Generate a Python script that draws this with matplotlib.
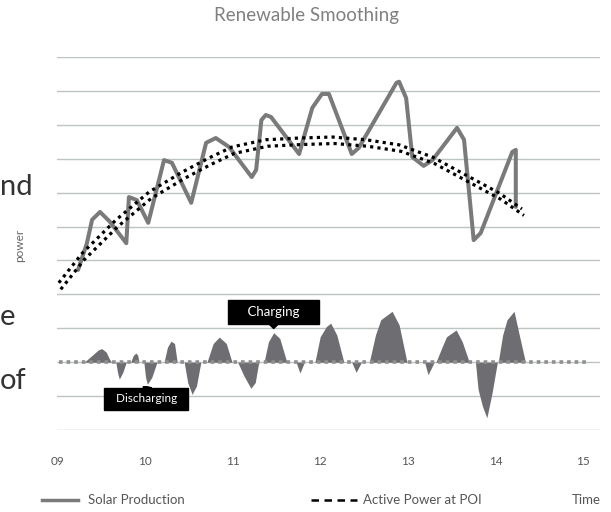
import matplotlib
matplotlib.use("Agg")
import matplotlib.pyplot as plt
from matplotlib.lines import Line2D
from matplotlib.transforms import offset_copy

# ---------------- data ----------------
hour_ticks = [9, 10, 11, 12, 13, 14, 15]
hour_labels = ["09", "10", "11", "12", "13", "14", "15"]

solar_x = [9.24, 9.34, 9.40, 9.49, 9.60, 9.79, 9.82, 9.91, 10.04, 10.22, 10.31,
           10.53, 10.70, 10.81, 10.96, 11.22, 11.27, 11.33, 11.38, 11.44, 11.76,
           11.91, 12.02, 12.10, 12.36, 12.44, 12.87, 12.90, 12.98, 13.05, 13.18,
           13.28, 13.56, 13.64, 13.75, 13.83, 14.19, 14.23, 14.23]
solar_y = [2.72, 3.50, 4.20, 4.43, 4.15, 3.51, 4.87, 4.78, 4.11, 5.96, 5.88,
           4.70, 6.47, 6.61, 6.35, 5.46, 5.67, 7.14, 7.29, 7.23, 6.14,
           7.50, 7.91, 7.91, 6.14, 6.32, 8.24, 8.27, 7.79, 6.05, 5.79,
           5.96, 6.91, 6.56, 3.60, 3.81, 6.20, 6.26, 4.58]

poi_x = [9.02, 9.29, 9.67, 10.05, 10.43, 10.73, 11.00, 11.38, 11.76, 12.14,
         12.52, 12.90, 13.28, 13.66, 14.04, 14.30]
poi_y = [2.34, 3.22, 4.19, 5.02, 5.61, 6.02, 6.35, 6.56, 6.61, 6.64,
         6.56, 6.41, 6.05, 5.52, 4.99, 4.52]

battery_x = [9.31, 9.40, 9.47, 9.51, 9.56, 9.60, 9.62,
             9.67, 9.69, 9.71, 9.75, 9.79,
             9.84, 9.87, 9.90, 9.92, 9.935,
             9.99, 10.01, 10.03, 10.08, 10.14,
             10.22, 10.26, 10.30, 10.34, 10.37,
             10.45, 10.49, 10.54, 10.59, 10.64,
             10.71, 10.78, 10.85, 10.93, 10.995,
             11.06, 11.13, 11.21, 11.26, 11.30,
             11.36, 11.41, 11.47, 11.54, 11.62,
             11.725, 11.77, 11.82,
             11.94, 12.00, 12.07, 12.12, 12.19, 12.27,
             12.36, 12.41, 12.47,
             12.56, 12.63, 12.69, 12.82, 12.90, 12.99,
             13.19, 13.23, 13.30,
             13.32, 13.39, 13.44, 13.55, 13.62, 13.70,
             13.77, 13.80, 13.85, 13.90, 13.96, 14.02,
             14.03, 14.08, 14.13, 14.21, 14.27, 14.34]
battery_y = [0, 0.20, 0.36, 0.40, 0.30, 0.08, 0,
             0, -0.30, -0.50, -0.30, 0,
             0, 0.20, 0.27, 0.20, 0,
             0, -0.45, -0.65, -0.45, 0,
             0, 0.45, 0.62, 0.55, 0,
             0, -0.60, -0.95, -0.70, 0,
             0, 0.55, 0.74, 0.55, 0,
             0, -0.40, -0.77, -0.60, 0,
             0, 0.60, 0.87, 0.70, 0,
             0, -0.32, 0,
             0, 0.75, 1.05, 1.15, 0.80, 0,
             0, -0.30, 0,
             0, 0.80, 1.25, 1.50, 1.10, 0,
             0, -0.37, 0,
             0, 0.45, 0.75, 0.95, 0.60, 0,
             0, -0.80, -1.30, -1.64, -0.90, 0,
             0, 0.80, 1.25, 1.50, 0.80, 0]

charging_idx = 44      # peak of the charging hump labelled
discharging_idx = 19   # dip labelled

# ---------------- style ----------------
FONT = ["Lato", "DejaVu Sans"]
plt.rcParams["font.family"] = FONT
GRID = "#bcc4c4"
TXT = "#555555"

fig = plt.figure(figsize=(6.11, 5.12), dpi=100)
ax = fig.add_axes([57 / 611, 1 - 430 / 512, 543 / 611, 373 / 512])
ax.set_xlim(9, 15.19)
ax.set_ylim(-2, 9)
for s in ax.spines.values():
    s.set_visible(False)
ax.set_yticks(range(-2, 10))
ax.set_yticklabels([])
ax.yaxis.grid(True, color=GRID, lw=1)
ax.set_axisbelow(True)
ax.set_xticks(hour_ticks)
ax.set_xticklabels(hour_labels)
ax.tick_params(axis="both", length=0)
ax.tick_params(axis="x", pad=19, labelsize=8.5, labelcolor=TXT)

# battery fill
ax.fill_between(battery_x, battery_y, 0, color="#6e6e72", lw=0, zorder=2)
ax.hlines(0, 9.02, 15.04, colors="#8f8f8f", linestyles=(0, (1, 1.1)), lw=2.6, zorder=3)

# solar production
ax.plot(solar_x, solar_y, color="#7a7a7a", lw=2.9, solid_joinstyle="round",
        solid_capstyle="round", zorder=4)

# active power at POI (double dotted)
ax.plot(poi_x, poi_y, color="black", lw=2.3, linestyle=(0, (1, 1.3)), zorder=5)
ax.plot(poi_x, poi_y, color="black", lw=2.3, linestyle=(0, (1, 1.3)), zorder=5,
        transform=offset_copy(ax.transData, fig=fig, x=2, y=-6.5, units="dots"))

# annotations
ax.annotate("    Charging    ", xy=(battery_x[charging_idx], battery_y[charging_idx]),
            xytext=(0, 21), textcoords="offset pixels", ha="center", va="center",
            color="white", fontsize=9.5,
            bbox=dict(boxstyle="square,pad=0.45", fc="black", ec="black"),
            arrowprops=dict(arrowstyle="wedge,tail_width=0.7", fc="black", ec="black",
                            shrinkA=0, shrinkB=3), zorder=6)
ax.annotate("  Discharging  ", xy=(battery_x[discharging_idx], battery_y[discharging_idx]),
            xytext=(-1, -14.5), textcoords="offset pixels", ha="center", va="center",
            color="white", fontsize=8.5,
            bbox=dict(boxstyle="square,pad=0.45", fc="black", ec="black"),
            arrowprops=dict(arrowstyle="wedge,tail_width=0.7", fc="black", ec="black",
                            shrinkA=0, shrinkB=2), zorder=6)

# title and labels
fig.text(306 / 611, 1 - 16 / 512, "Renewable Smoothing", ha="center", va="center",
         fontsize=13.5, color="#808080")
fig.text(20 / 611, 1 - 245 / 512, "power", rotation=90, ha="center", va="center",
         fontsize=8.5, color="#666666")
fig.text(586 / 611, 1 - 500 / 512, "Time", ha="center", va="center", fontsize=9.5, color=TXT)

# legend row
fig.add_artist(Line2D([42 / 611, 78 / 611], [1 - 500 / 512] * 2, color="#7a7a7a", lw=2.5))
fig.text(88 / 611, 1 - 500 / 512, "Solar Production", ha="left", va="center",
         fontsize=9.5, color=TXT)
fig.add_artist(Line2D([311 / 611, 357 / 611], [1 - 500 / 512] * 2, color="black", lw=1.8,
                      linestyle=(0, (3, 2.2))))
fig.text(363 / 611, 1 - 500 / 512, "Active Power at POI", ha="left", va="center",
         fontsize=9.5, color=TXT)

# visible fragments of neighbouring paragraph text at left edge
for txt, xl, yb in [("nd", 0, 195), ("e", 0, 325), ("of", 0, 389)]:
    fig.text(xl / 611, 1 - yb / 512, txt, ha="left", va="baseline", fontsize=21,
             color="#333333")

fig.savefig("out.png", dpi=100)
